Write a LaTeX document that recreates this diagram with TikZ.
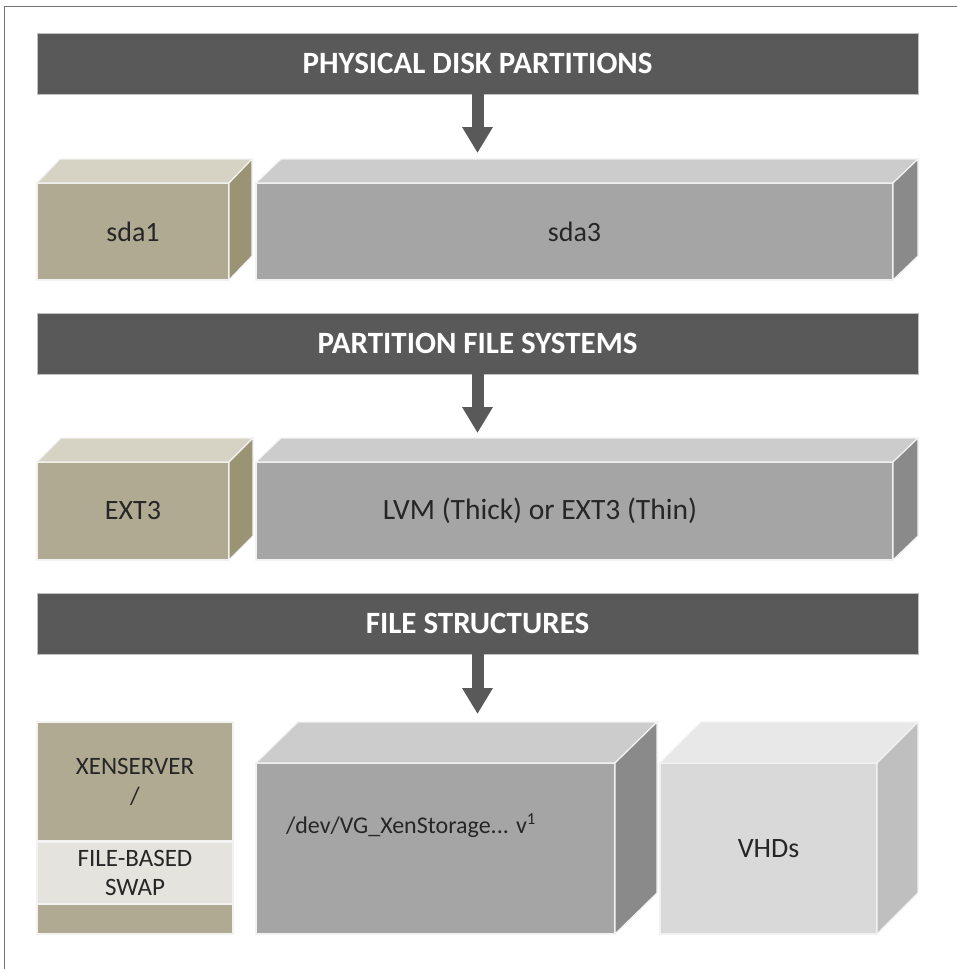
\documentclass[tikz,border=0pt]{standalone}
\usepackage{fontspec}
\setmainfont{Carlito}
\usepackage{tikz}
\usetikzlibrary{arrows.meta,calc,positioning}

\definecolor{bannergray}{HTML}{595959}
\definecolor{tanfront}{HTML}{B1AA92}
\definecolor{tantop}{HTML}{D6D2C4}
\definecolor{tanside}{HTML}{9B9474}
\definecolor{tanlight}{HTML}{E5E3DD}
\definecolor{grayfront}{HTML}{A5A5A5}
\definecolor{graytop}{HTML}{CCCCCC}
\definecolor{grayside}{HTML}{8A8A8A}
\definecolor{lightfront}{HTML}{D9D9D9}
\definecolor{lighttop}{HTML}{E8E8E8}
\definecolor{lightside}{HTML}{BFBFBF}

\tikzset{
    banner/.style={fill=bannergray, draw=black!25, line width=0.8pt, text=white, inner sep=0pt, outer sep=0pt,
        minimum width=881pt, minimum height=61pt, font=\fontsize{31}{35}\selectfont\bfseries},
    face/.style={draw=white!95!black, line width=1.2pt, inner sep=0pt, outer sep=0pt, anchor=north west,
        font=\fontsize{28}{32}\selectfont, text=black!85},
    label text/.style={text=black!85},
    down/.style={draw=bannergray, line width=12pt, -{Triangle[width=29pt,length=26pt]}}}

% top and side faces of a box, from the front face node
\newcommand{\boxfaces}[5]{%
  \draw[draw=white!95!black, line width=1.2pt, fill=#4] (#1.north west) -- ++(#2,#3) -- ($(#1.north east)+(#2,#3)$) -- (#1.north east) -- cycle;
  \draw[draw=white!95!black, line width=1.2pt, fill=#5] (#1.north east) -- ++(#2,#3) -- ($(#1.south east)+(#2,#3)$) -- (#1.south east) -- cycle;
}

\begin{document}
\begin{tikzpicture}[x=1pt,y=-1pt]
\useasboundingbox (0,0) rectangle (957,969);
\draw[black!55, line width=1pt] (4,969) -- (4,6) -- (957,6);

% banners
\node[banner] (phys) at (477.5,63.5) {PHYSICAL DISK PARTITIONS};
\node[banner] (pfs) at (477.5,343.5) {PARTITION FILE SYSTEMS};
\node[banner] (fstruct) at (477.5,623.5) {FILE STRUCTURES};

% row 1
\node[face, fill=tanfront, minimum width=192pt, minimum height=97pt] (sda1) at (37,183) {sda1};
\boxfaces{sda1}{23}{-24}{tantop}{tanside}
\node[face, fill=grayfront, minimum width=637pt, minimum height=97pt] (sda3) at (256,183) {sda3};
\boxfaces{sda3}{25}{-24}{graytop}{grayside}

% row 2
\node[face, fill=tanfront, minimum width=192pt, minimum height=98pt] (ext3) at (37,462) {EXT3};
\boxfaces{ext3}{24}{-24}{tantop}{tanside}
\node[face, fill=grayfront, minimum width=637pt, minimum height=98pt] (lvm) at (256,462) {};
\boxfaces{lvm}{25}{-24}{graytop}{grayside}
\node[label text, font=\fontsize{29.5}{34}\selectfont] (lvmtext) at (540,511) {LVM (Thick) or EXT3 (Thin)};

% row 3
\node[face, fill=tanfront, minimum width=196pt, minimum height=119pt, align=center,
      font=\fontsize{25}{30}\selectfont] (xen) at (37,722) {XENSERVER\\/};
\node[face, fill=tanlight, minimum width=196pt, minimum height=62pt, align=center,
      font=\fontsize{25}{29}\selectfont] (swap) at (37,842) {FILE-BASED\\SWAP};
\node[face, fill=tanfront, minimum width=196pt, minimum height=30pt] (xenbot) at (37,904) {};
\node[face, fill=grayfront, minimum width=359pt, minimum height=171pt] (vg) at (256,763) {};
\boxfaces{vg}{42}{-41}{graytop}{grayside}
\node[label text, font=\fontsize{24}{29}\selectfont] (vgtext) at (411,826) {/dev/VG\_XenStorage... v\textsuperscript{1}};
\node[face, fill=lightfront, minimum width=217pt, minimum height=171pt] (vhd) at (660,763) {VHDs};
\boxfaces{vhd}{41}{-41}{lighttop}{lightside}

% arrows
\coordinate (tip1) at (477.5,153);
\coordinate (tip2) at (477.5,433);
\coordinate (tip3) at (477.5,714);
\draw[down] (phys.south) -- (tip1);
\draw[down] (pfs.south) -- (tip2);
\draw[down] (fstruct.south) -- (tip3);
\end{tikzpicture}
\end{document}
